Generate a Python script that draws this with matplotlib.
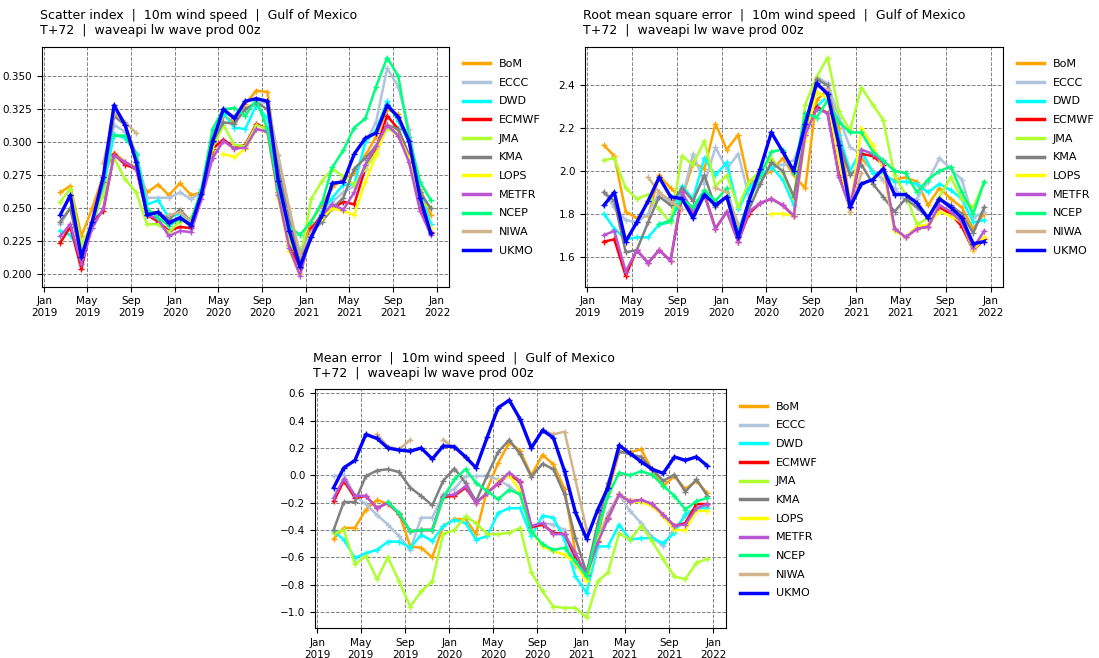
import numpy as np
import pandas as pd
import matplotlib
matplotlib.use('Agg')
import matplotlib.pyplot as plt
import matplotlib.dates as mdates

nan = np.nan

# monthly verification dates (mid month), Feb 2019 -> Dec 2021
dates = pd.date_range(start='2019-02-01', periods=35, freq='MS') + pd.Timedelta(days=14)

centres = ['BoM', 'ECCC', 'DWD', 'ECMWF', 'JMA', 'KMA', 'LOPS', 'METFR', 'NCEP', 'NIWA', 'UKMO']
colours = ['orange', 'lightsteelblue', 'cyan', 'red', 'greenyellow', 'grey', 'yellow',
           'mediumorchid', 'springgreen', 'tan', 'blue']

# ---- Scatter index
si_bom = [0.262, 0.267, 0.229, 0.250, 0.275, 0.292, 0.285, 0.281, 0.262, 0.268, 0.260, 0.269, 0.260, 0.262, 0.292, 0.320, 0.315, 0.329, 0.339, 0.338, 0.280, 0.236, 0.213, 0.240, 0.253, 0.266, 0.272, 0.277, 0.290, 0.304, 0.325, 0.321, 0.301, 0.265, 0.245]
si_eccc = [0.238, 0.250, 0.215, 0.240, 0.270, 0.313, 0.308, 0.290, 0.258, 0.258, 0.258, 0.262, 0.257, 0.262, 0.300, 0.322, 0.320, 0.325, 0.330, 0.330, 0.290, 0.248, 0.213, 0.233, 0.243, 0.255, 0.262, 0.267, 0.300, 0.315, 0.356, 0.342, 0.310, 0.262, 0.238]
si_dwd = [0.233, 0.230, 0.215, 0.235, 0.265, 0.306, 0.303, 0.292, 0.253, 0.256, 0.243, 0.246, 0.240, 0.262, 0.300, 0.322, 0.311, 0.310, 0.328, 0.318, 0.280, 0.238, 0.218, 0.232, 0.248, 0.258, 0.268, 0.268, 0.300, 0.309, 0.331, 0.316, 0.300, 0.262, 0.238]
si_ecmwf = [0.224, 0.236, 0.204, 0.240, 0.248, 0.291, 0.283, 0.280, 0.245, 0.240, 0.233, 0.236, 0.235, 0.262, 0.295, 0.302, 0.296, 0.298, 0.314, 0.310, 0.262, 0.222, 0.205, 0.235, 0.245, 0.250, 0.255, 0.253, 0.280, 0.295, 0.320, 0.310, 0.290, 0.250, 0.232]
si_jma = [0.255, 0.265, 0.222, 0.240, 0.260, 0.288, 0.272, 0.262, 0.238, 0.238, 0.232, 0.240, 0.243, 0.260, 0.296, 0.313, 0.298, 0.297, 0.313, 0.310, 0.265, 0.225, 0.211, 0.257, 0.271, 0.280, 0.274, 0.268, 0.280, 0.292, 0.311, 0.305, 0.288, 0.255, 0.250]
si_kma = [0.240, 0.250, 0.212, 0.238, 0.270, 0.320, 0.313, 0.290, 0.247, 0.247, 0.242, 0.249, 0.240, 0.262, 0.300, 0.315, 0.314, 0.325, 0.330, 0.325, 0.280, 0.240, 0.213, 0.232, 0.240, 0.250, 0.258, 0.280, 0.288, 0.297, 0.313, 0.310, 0.290, 0.262, 0.250]
si_lops = [nan] * 15 + [0.291, 0.289, 0.295, 0.310, 0.308, 0.258, 0.218, 0.200, 0.230, 0.243, 0.250, 0.248, 0.245, 0.270, 0.290, 0.313, 0.305, 0.288, 0.255, 0.235]
si_metfr = [0.229, 0.238, 0.208, 0.235, 0.250, 0.290, 0.285, 0.280, 0.245, 0.242, 0.229, 0.233, 0.232, 0.257, 0.288, 0.301, 0.295, 0.296, 0.310, 0.308, 0.260, 0.220, 0.199, 0.232, 0.245, 0.253, 0.249, 0.262, 0.283, 0.297, 0.313, 0.305, 0.285, 0.248, 0.230]
si_ncep = [nan] * 5 + [0.305, 0.305, 0.290, 0.250, 0.243, 0.237, 0.242, 0.240, 0.265, 0.310, 0.325, 0.326, 0.320, 0.332, 0.310, 0.265, 0.236, 0.230, 0.240, 0.255, 0.281, 0.294, 0.311, 0.318, 0.342, 0.364, 0.350, 0.304, 0.270, 0.256]
si_niwa = [nan] * 4 + [0.284, 0.322, 0.315, 0.307] + [nan] * 2 + [0.245, 0.247, 0.240] + [nan] * 6 + [0.330, 0.290, 0.250, 0.215, 0.232] + [nan] * 11
si_ukmo = [0.245, 0.260, 0.213, 0.240, 0.274, 0.328, 0.313, 0.285, 0.245, 0.247, 0.239, 0.243, 0.237, 0.261, 0.301, 0.325, 0.318, 0.331, 0.333, 0.331, 0.271, 0.233, 0.206, 0.228, 0.245, 0.269, 0.270, 0.291, 0.303, 0.307, 0.328, 0.319, 0.301, 0.258, 0.231]

# ---- Root mean square error
rmse_bom = [2.12, 2.07, 1.81, 1.78, 1.79, 1.98, 1.92, 1.87, 2.04, 2.01, 2.22, 2.10, 2.17, 1.94, 1.97, 2.00, 2.06, 1.98, 1.92, 2.33, 2.38, 2.20, 1.85, 2.06, 2.00, 1.96, 1.96, 1.97, 1.95, 1.84, 1.92, 1.87, 1.83, 1.73, 1.80]
rmse_eccc = [1.90, 1.83, 1.77, 1.76, 1.80, 1.90, 1.85, 1.87, 2.08, 1.94, 2.11, 2.01, 2.08, 1.88, 1.95, 2.02, 2.03, 2.05, 2.19, 2.44, 2.41, 2.25, 2.11, 2.08, 2.00, 1.96, 1.92, 1.86, 1.87, 1.95, 2.06, 2.01, 1.96, 1.78, 1.81]
rmse_dwd = [1.80, 1.73, 1.68, 1.69, 1.69, 1.75, 1.76, 1.93, 1.87, 2.06, 1.98, 2.04, 1.82, 1.92, 1.98, 2.02, 1.96, 1.84, 2.19, 2.30, 2.35, 2.17, 2.00, 2.10, 1.99, 1.99, 1.95, 1.95, 1.94, 1.90, 1.94, 1.91, 1.87, 1.76, 1.77]
rmse_ecmwf = [1.67, 1.68, 1.51, 1.63, 1.57, 1.63, 1.58, 1.88, 1.80, 1.89, 1.73, 1.81, 1.67, 1.80, 1.85, 1.87, 1.84, 1.79, 2.18, 2.30, 2.27, 1.98, 1.83, 2.08, 2.07, 2.03, 1.73, 1.69, 1.73, 1.74, 1.83, 1.80, 1.74, 1.63, 1.68]
rmse_jma = [2.05, 2.06, 1.92, 1.87, 1.89, 1.82, 1.76, 2.07, 2.03, 2.14, 1.93, 1.98, 1.83, 1.95, 2.00, 2.06, 1.99, 1.87, 2.31, 2.44, 2.53, 2.28, 2.19, 2.39, 2.31, 2.24, 1.98, 1.89, 1.75, 1.78, 1.88, 1.97, 1.87, 1.83, 1.95]
rmse_kma = [1.90, 1.86, 1.62, 1.63, 1.76, 1.88, 1.84, 1.92, 1.86, 1.98, 1.83, 1.88, 1.70, 1.82, 1.94, 2.04, 2.00, 1.88, 2.17, 2.43, 2.40, 2.14, 1.98, 2.03, 1.94, 1.88, 1.81, 1.87, 1.83, 1.78, 1.87, 1.84, 1.80, 1.71, 1.83]
rmse_lops = [nan] * 15 + [1.80, 1.80, 1.79, 2.14, 2.37, 2.34, 2.05, 1.81, 2.20, 2.12, 2.01, 1.72, 1.69, 1.74, 1.75, 1.81, 1.79, 1.76, 1.63, 1.69]
rmse_metfr = [1.70, 1.72, 1.53, 1.63, 1.57, 1.63, 1.58, 1.90, 1.81, 1.89, 1.73, 1.81, 1.67, 1.81, 1.85, 1.87, 1.84, 1.79, 2.17, 2.29, 2.27, 1.97, 1.83, 2.10, 2.08, 2.04, 1.73, 1.69, 1.73, 1.74, 1.84, 1.81, 1.76, 1.64, 1.72]
rmse_ncep = [nan] * 5 + [1.75, 1.77, 1.87, 1.83, 1.91, 1.86, 1.92, 1.72, 1.86, 1.98, 2.09, 2.10, 1.99, 2.27, 2.25, 2.33, 2.23, 2.18, 2.18, 2.09, 2.05, 2.00, 1.99, 1.90, 1.96, 2.00, 2.02, 1.90, 1.80, 1.95]
rmse_niwa = [nan] * 4 + [1.97, 1.90, 1.86, 1.82] + [nan] * 2 + [1.92, 1.90, 1.75] + [nan] * 6 + [2.40, 2.38, 2.12, 1.81, 1.99] + [nan] * 11
rmse_ukmo = [1.84, 1.90, 1.67, 1.76, 1.86, 1.97, 1.88, 1.87, 1.78, 1.89, 1.84, 1.88, 1.69, 1.86, 2.01, 2.18, 2.09, 2.00, 2.22, 2.41, 2.36, 2.12, 1.83, 1.94, 1.96, 2.01, 1.89, 1.89, 1.85, 1.78, 1.87, 1.83, 1.78, 1.66, 1.67]

# ---- Mean error
me_bom = [-0.465, -0.385, -0.385, -0.25, -0.18, -0.21, -0.28, -0.52, -0.53, -0.60, -0.37, -0.32, -0.32, -0.43, -0.10, 0.09, 0.24, 0.18, 0.0, 0.15, 0.08, -0.10, -0.57, -0.76, -0.44, -0.13, 0.17, 0.17, 0.19, 0.04, -0.08, -0.005, -0.10, -0.04, -0.13]
me_eccc = [-0.005, 0.005, -0.15, -0.21, -0.29, -0.36, -0.445, -0.545, -0.31, -0.31, -0.14, -0.10, -0.005, -0.005, -0.005, -0.03, -0.08, -0.14, -0.37, -0.35, -0.36, -0.40, -0.665, -0.715, -0.47, -0.275, -0.14, -0.26, -0.35, -0.45, -0.52, -0.385, -0.30, -0.25, -0.225]
me_dwd = [-0.41, -0.47, -0.605, -0.57, -0.545, -0.485, -0.485, -0.53, -0.435, -0.48, -0.37, -0.325, -0.35, -0.47, -0.445, -0.275, -0.24, -0.24, -0.445, -0.295, -0.31, -0.47, -0.74, -0.86, -0.52, -0.52, -0.36, -0.47, -0.46, -0.46, -0.495, -0.42, -0.285, -0.24, -0.24]
me_ecmwf = [-0.19, -0.04, -0.165, -0.15, -0.24, -0.20, -0.28, -0.41, -0.40, -0.40, -0.16, -0.15, -0.09, -0.20, -0.13, -0.06, 0.01, -0.05, -0.38, -0.36, -0.42, -0.43, -0.60, -0.73, -0.48, -0.31, -0.14, -0.19, -0.18, -0.21, -0.29, -0.37, -0.35, -0.21, -0.21]
me_jma = [-0.425, -0.40, -0.65, -0.59, -0.76, -0.60, -0.775, -0.96, -0.85, -0.775, -0.43, -0.40, -0.30, -0.35, -0.43, -0.43, -0.42, -0.385, -0.71, -0.85, -0.96, -0.97, -0.97, -1.04, -0.775, -0.71, -0.425, -0.47, -0.37, -0.48, -0.615, -0.74, -0.76, -0.64, -0.61]
me_kma = [-0.40, -0.195, -0.195, -0.005, 0.035, 0.045, 0.025, -0.09, -0.15, -0.22, -0.04, 0.05, -0.055, -0.19, 0.0, 0.17, 0.26, 0.155, -0.01, 0.085, 0.045, -0.14, -0.46, -0.715, -0.35, -0.055, 0.175, 0.155, 0.135, 0.045, -0.04, 0.005, -0.12, -0.03, -0.15]
me_lops = [nan] * 15 + [-0.04, 0.0, -0.115, -0.41, -0.52, -0.555, -0.58, -0.64, -0.775, -0.47, -0.32, -0.14, -0.195, -0.195, -0.225, -0.30, -0.40, -0.40, -0.26, -0.26]
me_metfr = [-0.165, -0.025, -0.15, -0.15, -0.24, -0.20, -0.28, -0.41, -0.40, -0.40, -0.15, -0.14, -0.08, -0.20, -0.13, -0.055, 0.02, -0.04, -0.37, -0.35, -0.43, -0.43, -0.57, -0.73, -0.49, -0.32, -0.14, -0.195, -0.18, -0.21, -0.29, -0.37, -0.36, -0.24, -0.21]
me_ncep = [nan] * 5 + [-0.195, -0.275, -0.41, -0.40, -0.40, -0.165, -0.03, 0.045, -0.055, -0.115, -0.175, -0.105, -0.14, -0.41, -0.505, -0.545, -0.53, -0.63, -0.74, -0.40, -0.15, 0.02, 0.0, 0.03, 0.005, -0.075, -0.15, -0.25, -0.19, -0.165]
me_niwa = [nan] * 4 + [0.30, 0.21, 0.19, 0.26] + [nan] * 2 + [0.26, 0.20, 0.13] + [nan] * 6 + [0.33, 0.30, 0.32, -0.03, -0.40] + [nan] * 11
me_ukmo = [-0.09, 0.055, 0.11, 0.30, 0.27, 0.20, 0.185, 0.177, 0.20, 0.12, 0.215, 0.21, 0.135, 0.055, 0.28, 0.495, 0.55, 0.41, 0.20, 0.33, 0.275, 0.03, -0.27, -0.465, -0.25, -0.09, 0.22, 0.16, 0.10, 0.045, 0.015, 0.135, 0.11, 0.135, 0.07]

si = [si_bom, si_eccc, si_dwd, si_ecmwf, si_jma, si_kma, si_lops, si_metfr, si_ncep, si_niwa, si_ukmo]
rmse = [rmse_bom, rmse_eccc, rmse_dwd, rmse_ecmwf, rmse_jma, rmse_kma, rmse_lops, rmse_metfr, rmse_ncep, rmse_niwa, rmse_ukmo]
me = [me_bom, me_eccc, me_dwd, me_ecmwf, me_jma, me_kma, me_lops, me_metfr, me_ncep, me_niwa, me_ukmo]

subtitle = '  |  10m wind speed  |  Gulf of Mexico\nT+72  |  waveapi lw wave prod 00z'


def draw_panel(ax, series, stat):
    for name, col, vals in zip(centres, colours, series):
        lw = 2.4 if name == 'UKMO' else 1.8
        ax.plot(dates, vals, color=col, lw=lw, marker='+', ms=4, label=name)
    # titulo em duas linhas, alinhado a esquerda
    ax.set_title(stat + subtitle, loc='left', fontsize=9, pad=9, x=-0.005)
    ax.grid(True, linestyle='--', color='grey', lw=0.7)
    ax.xaxis.set_major_locator(mdates.MonthLocator(bymonth=[1, 5, 9]))
    ax.xaxis.set_major_formatter(mdates.DateFormatter('%b\n%Y'))
    ax.tick_params(labelsize=7.5)
    leg = ax.legend(loc='upper left', bbox_to_anchor=(1.01, 0.99), frameon=False,
                    fontsize=8, handlelength=2.4, labelspacing=0.78)
    for line in leg.get_lines():
        line.set_linewidth(2.5)
        line.set_marker('')


fig = plt.figure(figsize=(10.99, 6.58), dpi=100)
ax1 = fig.add_axes([0.038, 0.5643, 0.3709, 0.3647])
ax2 = fig.add_axes([0.5323, 0.5643, 0.3806, 0.3647])
ax3 = fig.add_axes([0.2866, 0.0451, 0.374, 0.3632])

draw_panel(ax1, si, 'Scatter index')
draw_panel(ax2, rmse, 'Root mean square error')
draw_panel(ax3, me, 'Mean error')

plt.savefig('out.png', dpi=100)
plt.close()
